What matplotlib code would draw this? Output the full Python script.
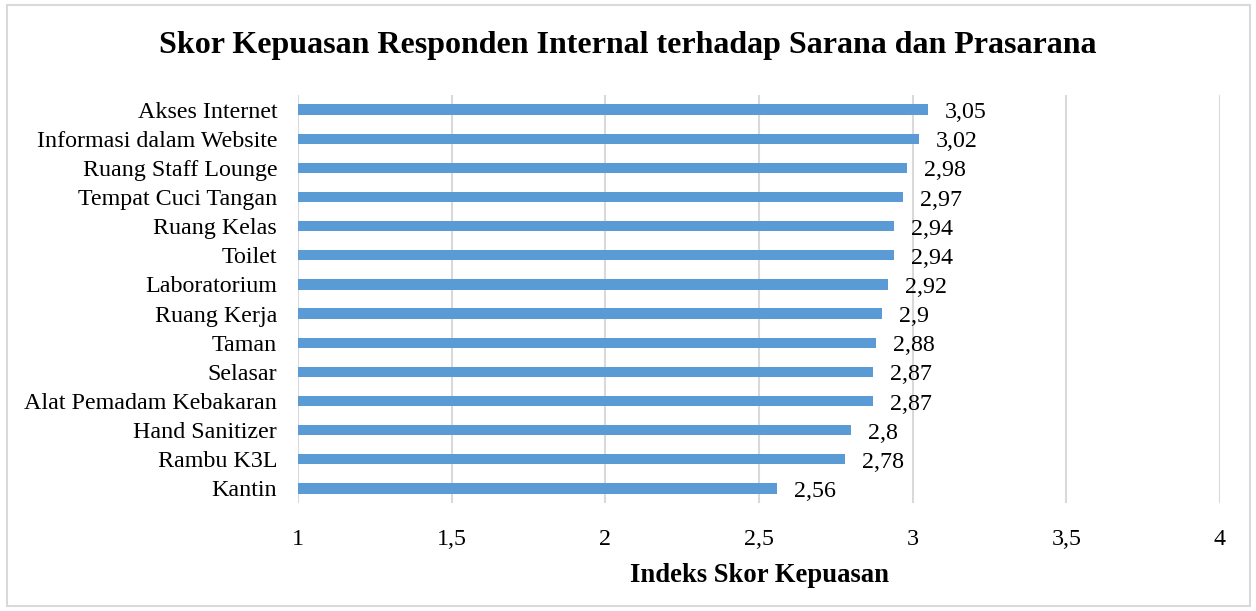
import matplotlib
matplotlib.use("Agg")
import matplotlib.pyplot as plt
from matplotlib.patches import Rectangle

categories = ["Akses Internet", "Informasi dalam Website", "Ruang Staff Lounge",
              "Tempat Cuci Tangan", "Ruang Kelas", "Toilet", "Laboratorium",
              "Ruang Kerja", "Taman", "Selasar", "Alat Pemadam Kebakaran",
              "Hand Sanitizer", "Rambu K3L", "Kantin"]
values = [3.05, 3.02, 2.98, 2.97, 2.94, 2.94, 2.92, 2.9, 2.88, 2.87, 2.87, 2.8, 2.78, 2.56]
xticks = [1, 1.5, 2, 2.5, 3, 3.5, 4]
xtick_labels = ["1", "1,5", "2", "2,5", "3", "3,5", "4"]

plt.rcParams['font.family'] = ['Liberation Serif', 'DejaVu Serif']

W, H = 1256, 611
fig = plt.figure(figsize=(W/100, H/100), dpi=100)
ax = fig.add_axes([298/W, 1-503/H, (1220-298)/W, (503-95)/H])

y = list(range(len(categories)))
ax.barh(y, [v - 1 for v in values], left=1, height=0.35, color="#5B9BD5", zorder=3)
ax.set_ylim(len(categories) - 0.5, -0.5)
ax.set_xlim(1, 4)
ax.set_yticks(y)
ax.set_yticklabels(categories, fontsize=17.3)
ax.set_xticks(xticks)
ax.set_xticklabels(xtick_labels, fontsize=17.3)
ax.tick_params(axis='y', length=0, pad=15)
ax.tick_params(axis='x', length=0, pad=19)
ax.xaxis.grid(True, color="#D9D9D9", linewidth=1.5, zorder=0)
for s in ax.spines.values():
    s.set_visible(False)

for yi, v in zip(y, values):
    lbl = f"{v:g}".replace(".", ",")
    ax.annotate(lbl, (v, yi), xytext=(17, -3), textcoords="offset pixels",
                va="center", ha="left", fontsize=17.3)

ax.set_xlabel("Indeks Skor Kepuasan", fontsize=19.2, fontweight="bold", labelpad=9)
fig.text(0.5, 1-46/H, "Skor Kepuasan Responden Internal terhadap Sarana dan Prasarana",
         ha="center", va="center", fontsize=23, fontweight="bold")

fig.patches.append(Rectangle((7/W, 1-606/H), (1250-7)/W, (606-5)/H, transform=fig.transFigure,
                             fill=False, edgecolor="#D9D9D9", linewidth=1.5))
fig.savefig("out.png", dpi=100)
